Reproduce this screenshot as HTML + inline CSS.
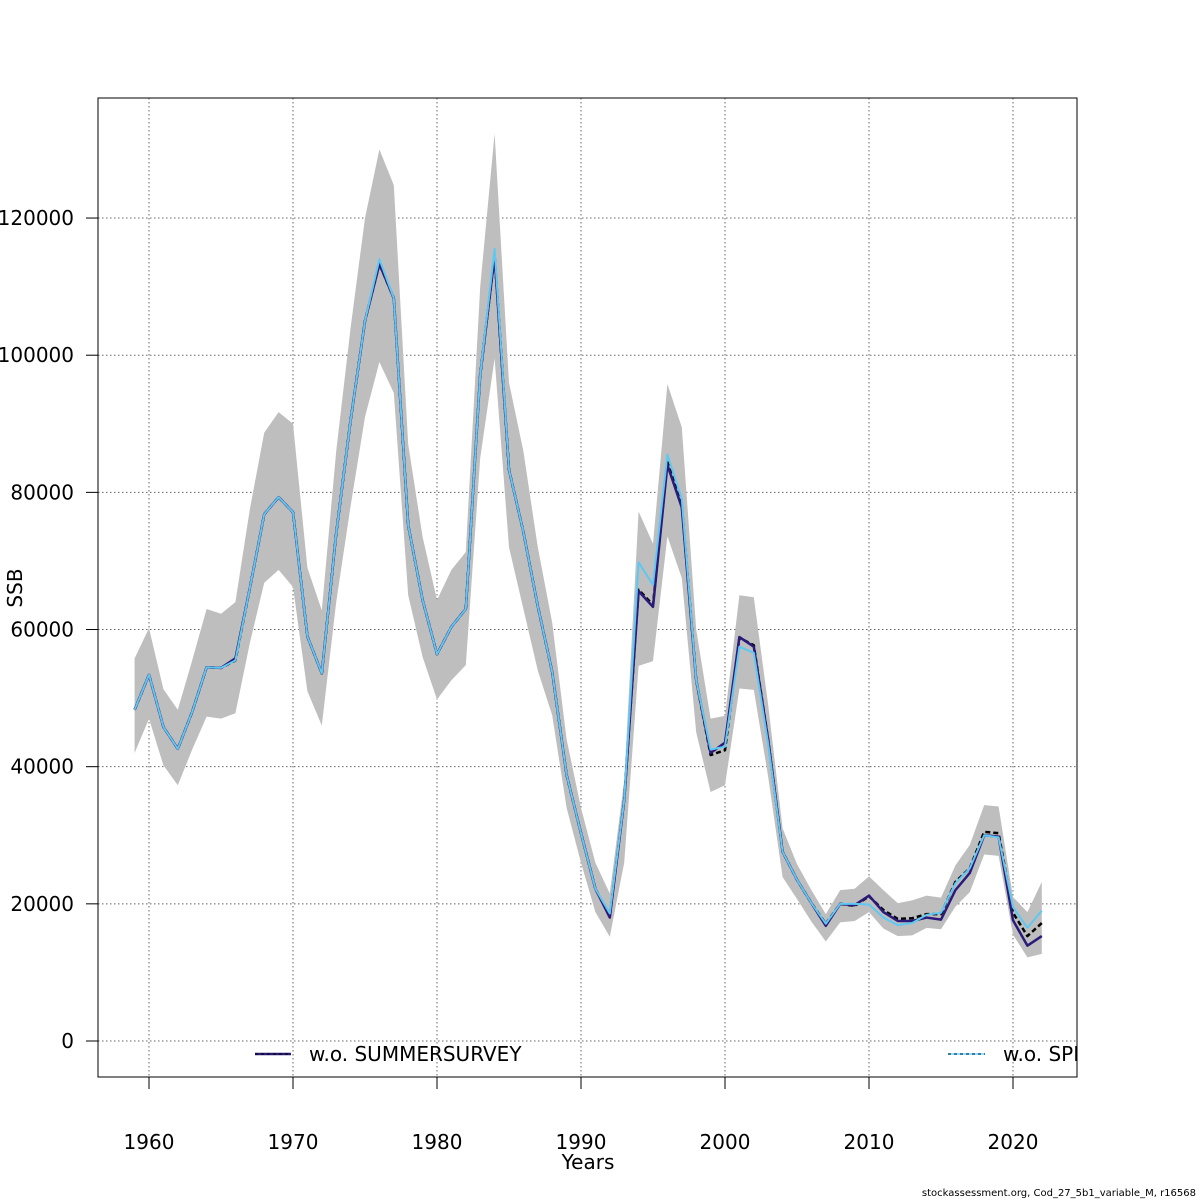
<!DOCTYPE html>
<html><head><meta charset="utf-8"><style>
html,body{margin:0;padding:0;background:#fff;width:1200px;height:1200px;overflow:hidden}
svg{display:block;font-family:"DejaVu Sans","Liberation Sans",sans-serif}
</style></head><body>
<svg id="chart" width="1200" height="1200" viewBox="0 0 1200 1200" xmlns="http://www.w3.org/2000/svg">
<defs><clipPath id="pc"><rect x="98" y="98" width="979" height="979"/></clipPath></defs>
<g id="grid"></g>
<g id="band" clip-path="url(#pc)"></g>
<g id="lines" clip-path="url(#pc)"></g>
<rect x="98" y="98" width="979" height="979" fill="none" stroke="#000" stroke-width="1"/>
<g id="axes"></g>
<text x="588" y="1169" font-size="20" text-anchor="middle">Years</text>
<text transform="translate(22,588) rotate(-90)" font-size="20" text-anchor="middle">SSB</text>
<g clip-path="url(#pc)">
<g>
<line x1="255" y1="1054" x2="291" y2="1054" stroke="#2b1a7a" stroke-width="2.5"/>
<line x1="255" y1="1054" x2="291" y2="1054" stroke="#000" stroke-width="1" stroke-dasharray="3,3"/>
<text x="309" y="1061" font-size="20">w.o. SUMMERSURVEY</text></g>
<g>
<line x1="948" y1="1054" x2="985" y2="1054" stroke="#000" stroke-width="2" stroke-dasharray="3,3"/>
<line x1="948" y1="1054" x2="985" y2="1054" stroke="#5ec8f2" stroke-width="1.2"/>
<text x="1003" y="1061" font-size="20">w.o. SPRINGSURVEY</text></g>
</g>
<text x="1196" y="1196" font-size="10" text-anchor="end">stockassessment.org, Cod_27_5b1_variable_M, r16568</text>
</svg>
<script>
const years=[];for(let y=1959;y<=2022;y++)years.push(y);
const base=[48300,53400,45800,42600,48000,54500,54400,55500,66000,76800,79300,77100,59000,53600,74000,90500,105000,113300,108300,75200,64300,56400,60400,63000,97100,114500,83300,74200,63400,53800,38800,30300,22200,18200,35100,65800,63600,84400,78200,52600,41700,42400,58800,57700,43900,27600,23500,20100,17100,20000,19700,21100,19100,17800,17900,18500,18500,23200,25200,30500,30300,18700,15300,17200];
const summer=[48300,53400,45800,42600,48000,54500,54400,55800,66000,76800,79300,77100,59000,53600,74000,90500,105000,113300,108300,75200,64300,56400,60400,63000,97100,114500,83300,74200,63400,53800,38800,30300,22200,18000,35100,65600,63300,84000,77800,52600,42000,43500,58900,57500,43900,27600,23500,20100,16800,20000,19800,21200,18800,17500,17500,18000,17700,22000,24500,30000,29800,17600,13900,15300];
const spring=[48300,53400,45800,42600,48000,54500,54400,55500,66000,76800,79300,77100,59000,53600,74000,90500,105000,114000,108300,75200,64300,56400,60400,63000,97100,115500,83300,74200,63400,53800,38800,30300,22200,18600,35100,69800,66500,85500,79000,52600,42500,42900,57500,56600,43300,27600,23500,20100,17100,20000,20000,19900,18000,16900,17200,18400,18700,23000,25200,30000,29700,19500,16500,19000];
const upper=[55800,60200,51300,48300,55500,63000,62300,64000,77500,88700,91700,90000,69000,62800,86000,104000,120000,130000,124800,87000,73500,64300,68700,71300,110000,132300,96000,86000,72000,61000,44000,34000,26000,21500,38000,77200,72500,95800,89500,60000,47000,47400,65000,64700,49000,31000,25800,22000,18500,22000,22200,24000,22000,20100,20500,21200,20900,25600,28600,34400,34200,21000,18800,23200];
const lower=[42000,47000,40200,37300,42500,47300,47000,47800,58000,66800,68700,66200,51000,46000,64000,78000,91000,99000,94500,65000,56000,49800,52600,54800,85000,99500,72000,63000,54000,47500,34000,26000,18800,15200,26000,54700,55400,73600,67500,45000,36300,37300,51400,51200,38500,23900,20700,17400,14500,17300,17500,18800,16400,15300,15400,16500,16300,19600,21700,27200,27000,15500,12200,12700];
const xTicks=[1960,1970,1980,1990,2000,2010,2020];
const yTicks=[0,20000,40000,60000,80000,100000,120000];
const NS="http://www.w3.org/2000/svg";
const X=v=>149+(v-1960)*14.4;
const Y=v=>1041-v*0.006858;
function mk(tag,attrs,parent){const e=document.createElementNS(NS,tag);for(const k in attrs)e.setAttribute(k,attrs[k]);document.getElementById(parent).appendChild(e);return e;}
xTicks.forEach(t=>{
 const g=mk('line',{x1:X(t),x2:X(t),y1:98,y2:1077,stroke:'#666','stroke-dasharray':'1.5,2.5','stroke-width':1},'grid');
 
 const tk=mk('line',{x1:X(t),x2:X(t),y1:1077,y2:1089,stroke:'#000'},'axes');
 
 const l=mk('text',{x:X(t),y:1149,'font-size':20,'text-anchor':'middle'},'axes');l.textContent=t;
 
});
yTicks.forEach(t=>{
 const g=mk('line',{x1:98,x2:1077,y1:Y(t),y2:Y(t),stroke:'#666','stroke-dasharray':'1.5,2.5','stroke-width':1},'grid');
 
 const tk=mk('line',{x1:86,x2:98,y1:Y(t),y2:Y(t),stroke:'#000'},'axes');
 
 const l=mk('text',{x:74,y:Y(t)+7,'font-size':20,'text-anchor':'end'},'axes');l.textContent=t;
 
});
let pts=years.map((y,i)=>X(y)+','+Y(upper[i]));
for(let i=years.length-1;i>=0;i--)pts.push(X(years[i])+','+Y(lower[i]));
const band=mk('polygon',{points:pts.join(' '),fill:'#bebebe',stroke:'none'},'band');

const line=(arr,st)=>mk('polyline',Object.assign({points:years.map((y,i)=>X(y)+','+Y(arr[i])).join(' '),fill:'none','stroke-linejoin':'round'},st),'lines');
const b=line(base,{stroke:'#000','stroke-width':2.5,'stroke-dasharray':'5,3'});

const s=line(summer,{stroke:'#2b1a7a','stroke-width':2.5});

const sp=line(spring,{stroke:'#5ec8f2','stroke-width':2});

</script>
</body></html>
